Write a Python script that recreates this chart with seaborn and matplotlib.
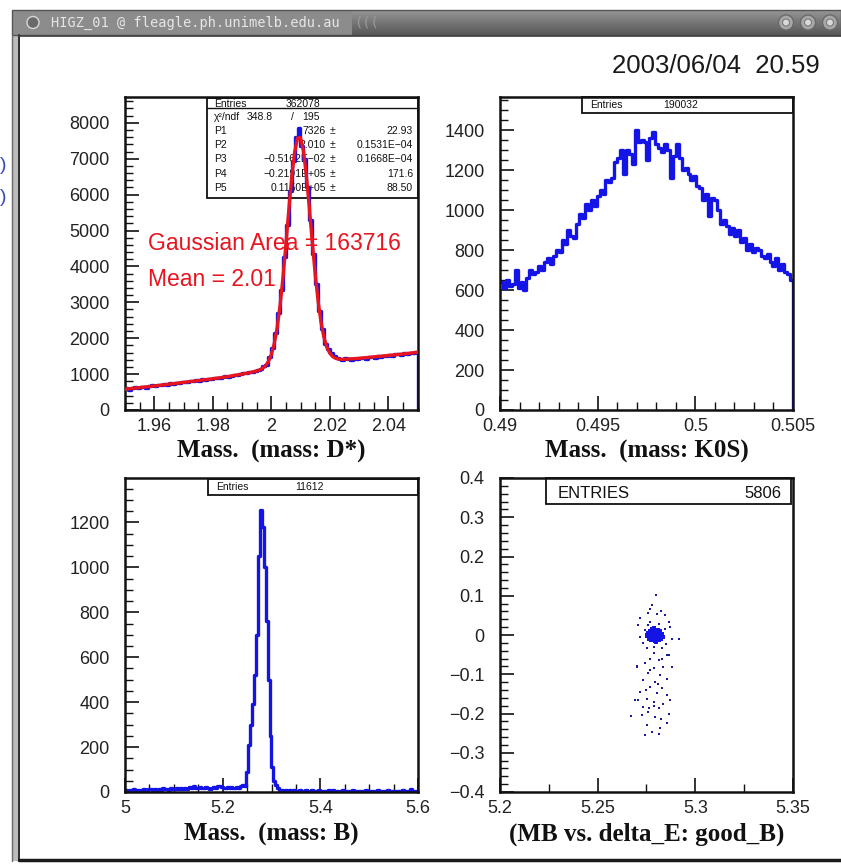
import numpy as np
import pandas as pd
import matplotlib
matplotlib.use("Agg")
import matplotlib.pyplot as plt
import seaborn as sns
from matplotlib.ticker import MultipleLocator, FuncFormatter
from matplotlib.patches import Rectangle, Circle

# ---------------- data ----------------
dstar_range = (1.95, 2.05)
dstar_counts = [
    600, 570, 610, 630, 600, 640, 650, 620, 660, 690,
    660, 700, 690, 720, 700, 740, 730, 760, 750, 780,
    770, 790, 810, 800, 830, 810, 850, 840, 870, 860,
    880, 900, 890, 920, 940, 930, 960, 980, 970, 1010,
    1030, 1020, 1060, 1050, 1090, 1120, 1150, 1230, 1260, 1470,
    1720, 2150, 2700, 3350, 4250, 5150, 6100, 6950, 7600, 7860,
    7350, 7000, 6200, 5300, 4350, 3500, 2750, 2250, 1850, 1700,
    1580, 1500, 1460, 1430, 1400, 1440, 1410, 1390, 1430, 1420,
    1450, 1460, 1430, 1470, 1490, 1460, 1500, 1480, 1510, 1500,
    1530, 1510, 1550, 1570, 1540, 1580, 1570, 1600, 1590, 1610,
]
dstar_fit_x = [1.95, 1.955, 1.96, 1.965, 1.97, 1.975, 1.98, 1.985, 1.99, 1.993,
               1.995, 1.996, 1.997, 1.998, 1.999, 2.000, 2.001, 2.002, 2.003, 2.004,
               2.005, 2.006, 2.007, 2.008, 2.009, 2.010, 2.011, 2.012, 2.013, 2.014,
               2.015, 2.016, 2.017, 2.018, 2.019, 2.020, 2.021, 2.022, 2.023, 2.024,
               2.025, 2.030, 2.035, 2.040, 2.045, 2.050]
dstar_fit_y = [580, 625, 670, 720, 770, 820, 870, 930, 1000, 1048,
               1089, 1117, 1160, 1230, 1347, 1538, 1838, 2283, 2898, 3684,
               4602, 5573, 6477, 7185, 7578, 7590, 7219, 6533, 5651, 4702,
               3808, 3044, 2451, 2028, 1750, 1583, 1488, 1440, 1419, 1413,
               1414, 1440, 1480, 1520, 1560, 1610]

k0s_range = (0.49, 0.505)
k0s_counts = [
    640, 610, 650, 620, 630, 700, 610, 640, 600, 660,
    700, 680, 690, 720, 700, 740, 760, 730, 770, 800,
    790, 850, 830, 900, 870, 860, 930, 980, 960, 1030,
    1000, 1050, 1020, 1070, 1100, 1080, 1150, 1140, 1160, 1240,
    1260, 1300, 1180, 1300, 1280, 1230, 1400, 1340, 1350, 1340,
    1250, 1360, 1390, 1330, 1310, 1290, 1330, 1300, 1160, 1270,
    1330, 1260, 1200, 1210, 1180, 1150, 1170, 1120, 1110, 1050,
    1080, 970, 1060, 1050, 1000, 930, 950, 920, 880, 910,
    870, 900, 840, 860, 800, 830, 790, 810, 800, 770,
    760, 780, 740, 720, 760, 700, 730, 690, 680, 650,
]

b_range = (5.0, 5.6)
b_counts = [
    8, 5, 10, 7, 12, 6, 9, 11, 8, 13,
    10, 7, 14, 12, 9, 15, 11, 13, 10, 16,
    12, 14, 11, 17, 13, 15, 18, 12, 16, 14,
    19, 15, 17, 22, 18, 26, 20, 16, 24, 19,
    17, 21, 18, 15, 20, 23, 19, 25, 28, 22,
    20, 17, 21, 19, 24, 18, 16, 22, 20, 26,
    30, 25, 90, 210, 300, 390, 520, 700, 1050, 1257,
    1180, 1000, 760, 500, 250, 110, 50, 30, 18, 10,
    8, 6, 9, 5, 7, 4, 8, 6, 5, 7,
    4, 6, 8, 5, 3, 7, 5, 6, 4, 9,
    5, 3, 6, 4, 7, 5, 8, 4, 6, 3,
    5, 7, 4, 6, 3, 5, 8, 4, 6, 5,
    3, 6, 4, 7, 5, 4, 6, 3, 5, 8,
    4, 6, 5, 3, 7, 4, 5, 6, 3, 5,
    6, 4, 7, 5, 3, 6, 12, 5, 4, 6,
]

mb_sparse = [5.2800, 5.2780, 5.2769, 5.2825, 5.2757, 5.2803, 5.2846, 5.2718, 5.2769, 5.2863,
             5.2704, 5.2816, 5.2871, 5.2880, 5.2914, 5.2718, 5.2752, 5.2829, 5.2786, 5.2854,
             5.2769, 5.2812, 5.2743, 5.2837, 5.2786, 5.2700, 5.2760, 5.2820, 5.2854, 5.2734,
             5.2794, 5.2769, 5.2829, 5.2718, 5.2803, 5.2854, 5.2752, 5.2786, 5.2692, 5.2837,
             5.2734, 5.2812, 5.2760, 5.2863, 5.2726, 5.2794, 5.2670, 5.2854, 5.2752, 5.2820,
             5.2777, 5.2743, 5.2812, 5.2871, 5.2880, 5.2863, 5.2709, 5.2700, 5.2740, 5.2845,
             5.2730, 5.2850, 5.2790, 5.2760, 5.2830, 5.2770, 5.2810, 5.2745, 5.2790, 5.2825,
             5.2765]
de_sparse = [0.102, 0.077, 0.066, 0.062, 0.055, 0.053, 0.051, 0.043, 0.034, 0.034,
             0.026, 0.028, 0.021, -0.011, -0.011, -0.004, -0.034, -0.034, -0.047, -0.051,
             -0.060, -0.064, -0.072, -0.081, -0.085, -0.081, -0.098, -0.102, -0.111, -0.115,
             -0.119, -0.132, -0.136, -0.145, -0.149, -0.153, -0.162, -0.170, -0.166, -0.175,
             -0.183, -0.187, -0.196, -0.200, -0.204, -0.209, -0.207, -0.225, -0.230, -0.238,
             -0.247, -0.255, -0.251, -0.166, -0.081, -0.051, -0.166, -0.079, 0.012, 0.015,
             -0.020, -0.022, -0.030, 0.025, -0.060, -0.090, -0.125, -0.140, -0.180, -0.215,
             -0.185]
mb_core = [5.2790, 5.2795, 5.2785, 5.2800, 5.2780, 5.2805, 5.2775, 5.2810, 5.2770, 5.2815,
           5.2792, 5.2788, 5.2798, 5.2783, 5.2803, 5.2765, 5.2820, 5.2760, 5.2825, 5.2778,
           5.2808, 5.2772, 5.2812, 5.2794, 5.2755, 5.2830, 5.2768, 5.2818, 5.2763, 5.2822,
           5.2786, 5.2801, 5.2750, 5.2835, 5.2796, 5.2791, 5.2782, 5.2807, 5.2777, 5.2813]
de_core = [0.000, 0.003, -0.004, -0.002, 0.005, 0.004, -0.001, 0.001, 0.002, -0.005,
           0.008, -0.008, 0.010, 0.012, -0.011, -0.006, 0.006, 0.004, -0.002, 0.015,
           0.014, -0.012, -0.014, -0.016, 0.000, 0.002, 0.009, 0.010, -0.010, -0.009,
           0.018, -0.019, -0.003, -0.004, 0.001, -0.002, 0.002, 0.000, 0.006, -0.007]

dstar_xticks = [1.96, 1.98, 2.0, 2.02, 2.04]
dstar_yticks = [0, 1000, 2000, 3000, 4000, 5000, 6000, 7000, 8000]
k0s_xticks = [0.49, 0.495, 0.5, 0.505]
k0s_yticks = [0, 200, 400, 600, 800, 1000, 1200, 1400]
b_xticks = [5.0, 5.2, 5.4, 5.6]
b_yticks = [0, 200, 400, 600, 800, 1000, 1200]
sc_xticks = [5.2, 5.25, 5.3, 5.35]
sc_yticks = [-0.4, -0.3, -0.2, -0.1, 0.0, 0.1, 0.2, 0.3, 0.4]

titles = ["Mass.  (mass: D*)", "Mass.  (mass: K0S)", "Mass.  (mass: B)", "(MB vs. delta_E: good_B)"]
fit_rows = [("P1", "7326", "22.93"), ("P2", "2.010", "0.1531E\u221204"),
            ("P3", "\u22120.5162E\u221202", "0.1668E\u221204"), ("P4", "\u22120.2191E+05", "171.6"),
            ("P5", "0.1150E+05", "88.50")]

# ---------------- style ----------------
sns.set_theme(style="white")
plt.rcParams['font.family'] = ['Liberation Sans', 'DejaVu Sans']
plt.rcParams['axes.unicode_minus'] = True

W, H = 841, 865
fig = plt.figure(figsize=(W / 100, H / 100), dpi=100)
fig.patch.set_facecolor('white')

BLUE = '#1414e6'
RED = '#e8141e'

# overlay for window chrome
ov = fig.add_axes([0, 0, 1, 1], zorder=-5)
ov.set_xlim(0, W)
ov.set_ylim(H, 0)
ov.axis('off')
grad = np.linspace(0, 1, 40).reshape(-1, 1)
ov.imshow(np.hstack([grad] * 2), extent=(12, W, 35, 10), cmap='Greys', vmin=-2.2, vmax=2.2,
          aspect='auto', zorder=0)
ov.add_patch(Rectangle((12, 10), 340, 25, facecolor='#8c8c8c', edgecolor='none', zorder=1))
ov.add_patch(Rectangle((12, 10), W - 12, 25, facecolor='none', edgecolor='#555555', lw=1.0, zorder=2))
ov.add_patch(Rectangle((12, 35), 8, 826, facecolor='#bcbcbc', edgecolor='none', zorder=1))
ov.plot([12.5, 12.5], [35, 861], color='#6a6a6a', lw=1)
ov.plot([19.5, 19.5], [35, 861], color='#303030', lw=1.4)
ov.plot([19, W], [860, 860], color='#1a1a1a', lw=2.5)
ov.plot([19, W], [36, 36], color='#404040', lw=1.2)
ov.text(51, 22.5, "HIGZ_01 @ fleagle.ph.unimelb.edu.au", fontsize=9.8, family='DejaVu Sans Mono',
        color='#e6e6e6', va='center', ha='left', zorder=3)
ov.text(354, 22.5, "(((", fontsize=9.8, family='DejaVu Sans Mono',
        color='#9a9a9a', va='center', ha='left', zorder=3)
ov.add_patch(Circle((33, 22.5), 6, facecolor='#6a6a6a', edgecolor='#d8d8d8', lw=1.0, zorder=3))
for cx in (786, 808, 830):
    ov.add_patch(Circle((cx, 22.5), 7.5, facecolor='#a8a8a8', edgecolor='#6a6a6a', lw=1, zorder=3))
    ov.add_patch(Circle((cx, 22.5), 3.5, facecolor='#dadada', edgecolor='#7a7a7a', lw=0.8, zorder=4))
ov.text(820, 66, "2003/06/04  20.59", fontsize=18.5, color='#1a1a1a', ha='right', va='center')
ov.text(0, 166, ")", fontsize=14, color='#3848c0', ha='left', va='center')
ov.text(0, 198, ")", fontsize=14, color='#3848c0', ha='left', va='center')

frames = [(125, 97, 417.5, 410), (500, 97, 793, 410), (125, 478, 418, 792), (500, 478, 793, 792)]


def make_ax(fr):
    x0, y0, x1, y1 = fr
    a = fig.add_axes([x0 / W, 1 - y1 / H, (x1 - x0) / W, (y1 - y0) / H])
    a.set_facecolor('none')
    return a


def fmt(v, p=None):
    if abs(v) < 1e-12:
        return "0"
    return ('%g' % round(v, 6)).replace('-', '\u2212')


def px(fr, x, y):
    x0, y0, x1, y1 = fr
    return ((x - x0) / (x1 - x0), (y1 - y) / (y1 - y0))


def style_ax(a, xt, yt, xminor, yminor, xlim, ylim, title):
    a.set_xlim(*xlim)
    a.set_ylim(*ylim)
    a.set_xticks(xt)
    a.set_yticks(yt)
    a.xaxis.set_major_formatter(FuncFormatter(fmt))
    a.yaxis.set_major_formatter(FuncFormatter(fmt))
    a.xaxis.set_minor_locator(MultipleLocator(xminor))
    a.yaxis.set_minor_locator(MultipleLocator(yminor))
    a.tick_params(which='both', direction='in', bottom=True, left=True, top=False, right=False,
                  color='#111111', labelsize=13, labelcolor='#222222')
    a.tick_params(which='major', length=10, width=1.2)
    a.tick_params(which='minor', length=5.5, width=1.0)
    a.tick_params(axis='y', which='major', pad=11)
    a.tick_params(axis='x', which='major', pad=6)
    for s in a.spines.values():
        s.set_color('#111111')
        s.set_linewidth(1.8)
    a.set_xlabel(title, family=['Liberation Serif', 'DejaVu Serif'], fontweight='bold',
                 fontsize=18, color='#111111')
    a.set_ylabel('')
    a.xaxis.set_label_coords(0.5, -0.134)
    a.xaxis.label.set_va('center')


def stat_box(a, fr, bx0, by0, bx1, by1, sep=None):
    l, b = px(fr, bx0, by1)
    r, t = px(fr, bx1, by0)
    a.add_patch(Rectangle((l, b), r - l, t - b, transform=a.transAxes, fill=False,
                          edgecolor='#111111', lw=1.3, clip_on=False, zorder=1))
    if sep is not None:
        _, s = px(fr, bx0, sep)
        a.plot([l, r], [s, s], transform=a.transAxes, color='#111111', lw=1.0, clip_on=False, zorder=1)


def stat_text(a, fr, x, y, s, ha='left', size=7.5):
    xx, yy = px(fr, x, y)
    a.text(xx, yy, s, transform=a.transAxes, ha=ha, va='center', fontsize=size,
           color='#111111', clip_on=False, zorder=1)


def hist(a, counts, rng):
    n = len(counts)
    edges = np.linspace(rng[0], rng[1], n + 1)
    df = pd.DataFrame({'x': (edges[:-1] + edges[1:]) / 2, 'w': counts})
    sns.histplot(data=df, x='x', weights='w', bins=n, binrange=rng, element='step', fill=False,
                 color=BLUE, linewidth=2.4, ax=a, zorder=2)
    a.vlines(edges[-1], 0, counts[-1], color=BLUE, lw=2.4, zorder=2)


# ---- panel 1: D* ----
fr = frames[0]
ax1 = make_ax(fr)
hist(ax1, dstar_counts, dstar_range)
sns.lineplot(x=dstar_fit_x, y=dstar_fit_y, color=RED, linewidth=2.4, ax=ax1, zorder=3)
style_ax(ax1, dstar_xticks, dstar_yticks, 0.005, 200, dstar_range, (0, 8720), titles[0])
stat_box(ax1, fr, 207.3, 98.3, 417.5, 197.7, sep=108.3)
stat_text(ax1, fr, 214, 104, "Entries")
stat_text(ax1, fr, 286, 104, "362078")
stat_text(ax1, fr, 214, 117.3, "\u03c7\u00b2/ndf")
stat_text(ax1, fr, 273, 117.3, "348.8", ha='right')
stat_text(ax1, fr, 292, 117.3, "/", ha='center')
stat_text(ax1, fr, 320, 117.3, "195", ha='right')
for i, (nm, val, err) in enumerate(fit_rows):
    yy = 131.3 + i * 14.1
    stat_text(ax1, fr, 214, yy, nm)
    stat_text(ax1, fr, 326, yy, val, ha='right')
    stat_text(ax1, fr, 330, yy, "\u00b1")
    stat_text(ax1, fr, 413, yy, err, ha='right')
gx, gy = px(fr, 148, 244)
ax1.text(gx, gy, "Gaussian Area = 163716", transform=ax1.transAxes, color=RED,
         fontsize=16.5, ha='left', va='center', zorder=4)
mx, my = px(fr, 148, 279)
ax1.text(mx, my, "Mean = 2.01", transform=ax1.transAxes, color=RED,
         fontsize=16.5, ha='left', va='center', zorder=4)

# ---- panel 2: K0S ----
fr = frames[1]
ax2 = make_ax(fr)
hist(ax2, k0s_counts, k0s_range)
style_ax(ax2, k0s_xticks, k0s_yticks, 0.001, 50, k0s_range, (0, 1566), titles[1])
stat_box(ax2, fr, 582.3, 96.7, 793, 112.7)
stat_text(ax2, fr, 590, 105, "Entries")
stat_text(ax2, fr, 663, 105, "190032")

# ---- panel 3: B ----
fr = frames[2]
ax3 = make_ax(fr)
hist(ax3, b_counts, b_range)
style_ax(ax3, b_xticks, b_yticks, 0.05, 50, b_range, (0, 1398), titles[2])
stat_box(ax3, fr, 208.3, 479, 418, 495)
stat_text(ax3, fr, 216, 487.5, "Entries")
stat_text(ax3, fr, 295, 487.5, "11612")

# ---- panel 4: scatter ----
fr = frames[3]
ax4 = make_ax(fr)
sns.scatterplot(x=mb_sparse, y=de_sparse, s=3, marker='s', color='#1a1a9a', linewidth=0, ax=ax4, zorder=2)
sns.scatterplot(x=mb_core, y=de_core, s=9, marker='s', color=BLUE, linewidth=0, ax=ax4, zorder=3)
style_ax(ax4, sc_xticks, sc_yticks, 0.025, 0.02, (5.2, 5.35), (-0.4, 0.4), titles[3])
stat_box(ax4, fr, 545.7, 478.3, 791, 504.3)
stat_text(ax4, fr, 558, 493, "ENTRIES", size=12)
stat_text(ax4, fr, 781, 493, "5806", ha='right', size=12)

fig.savefig("out.png", dpi=100, facecolor='white')
